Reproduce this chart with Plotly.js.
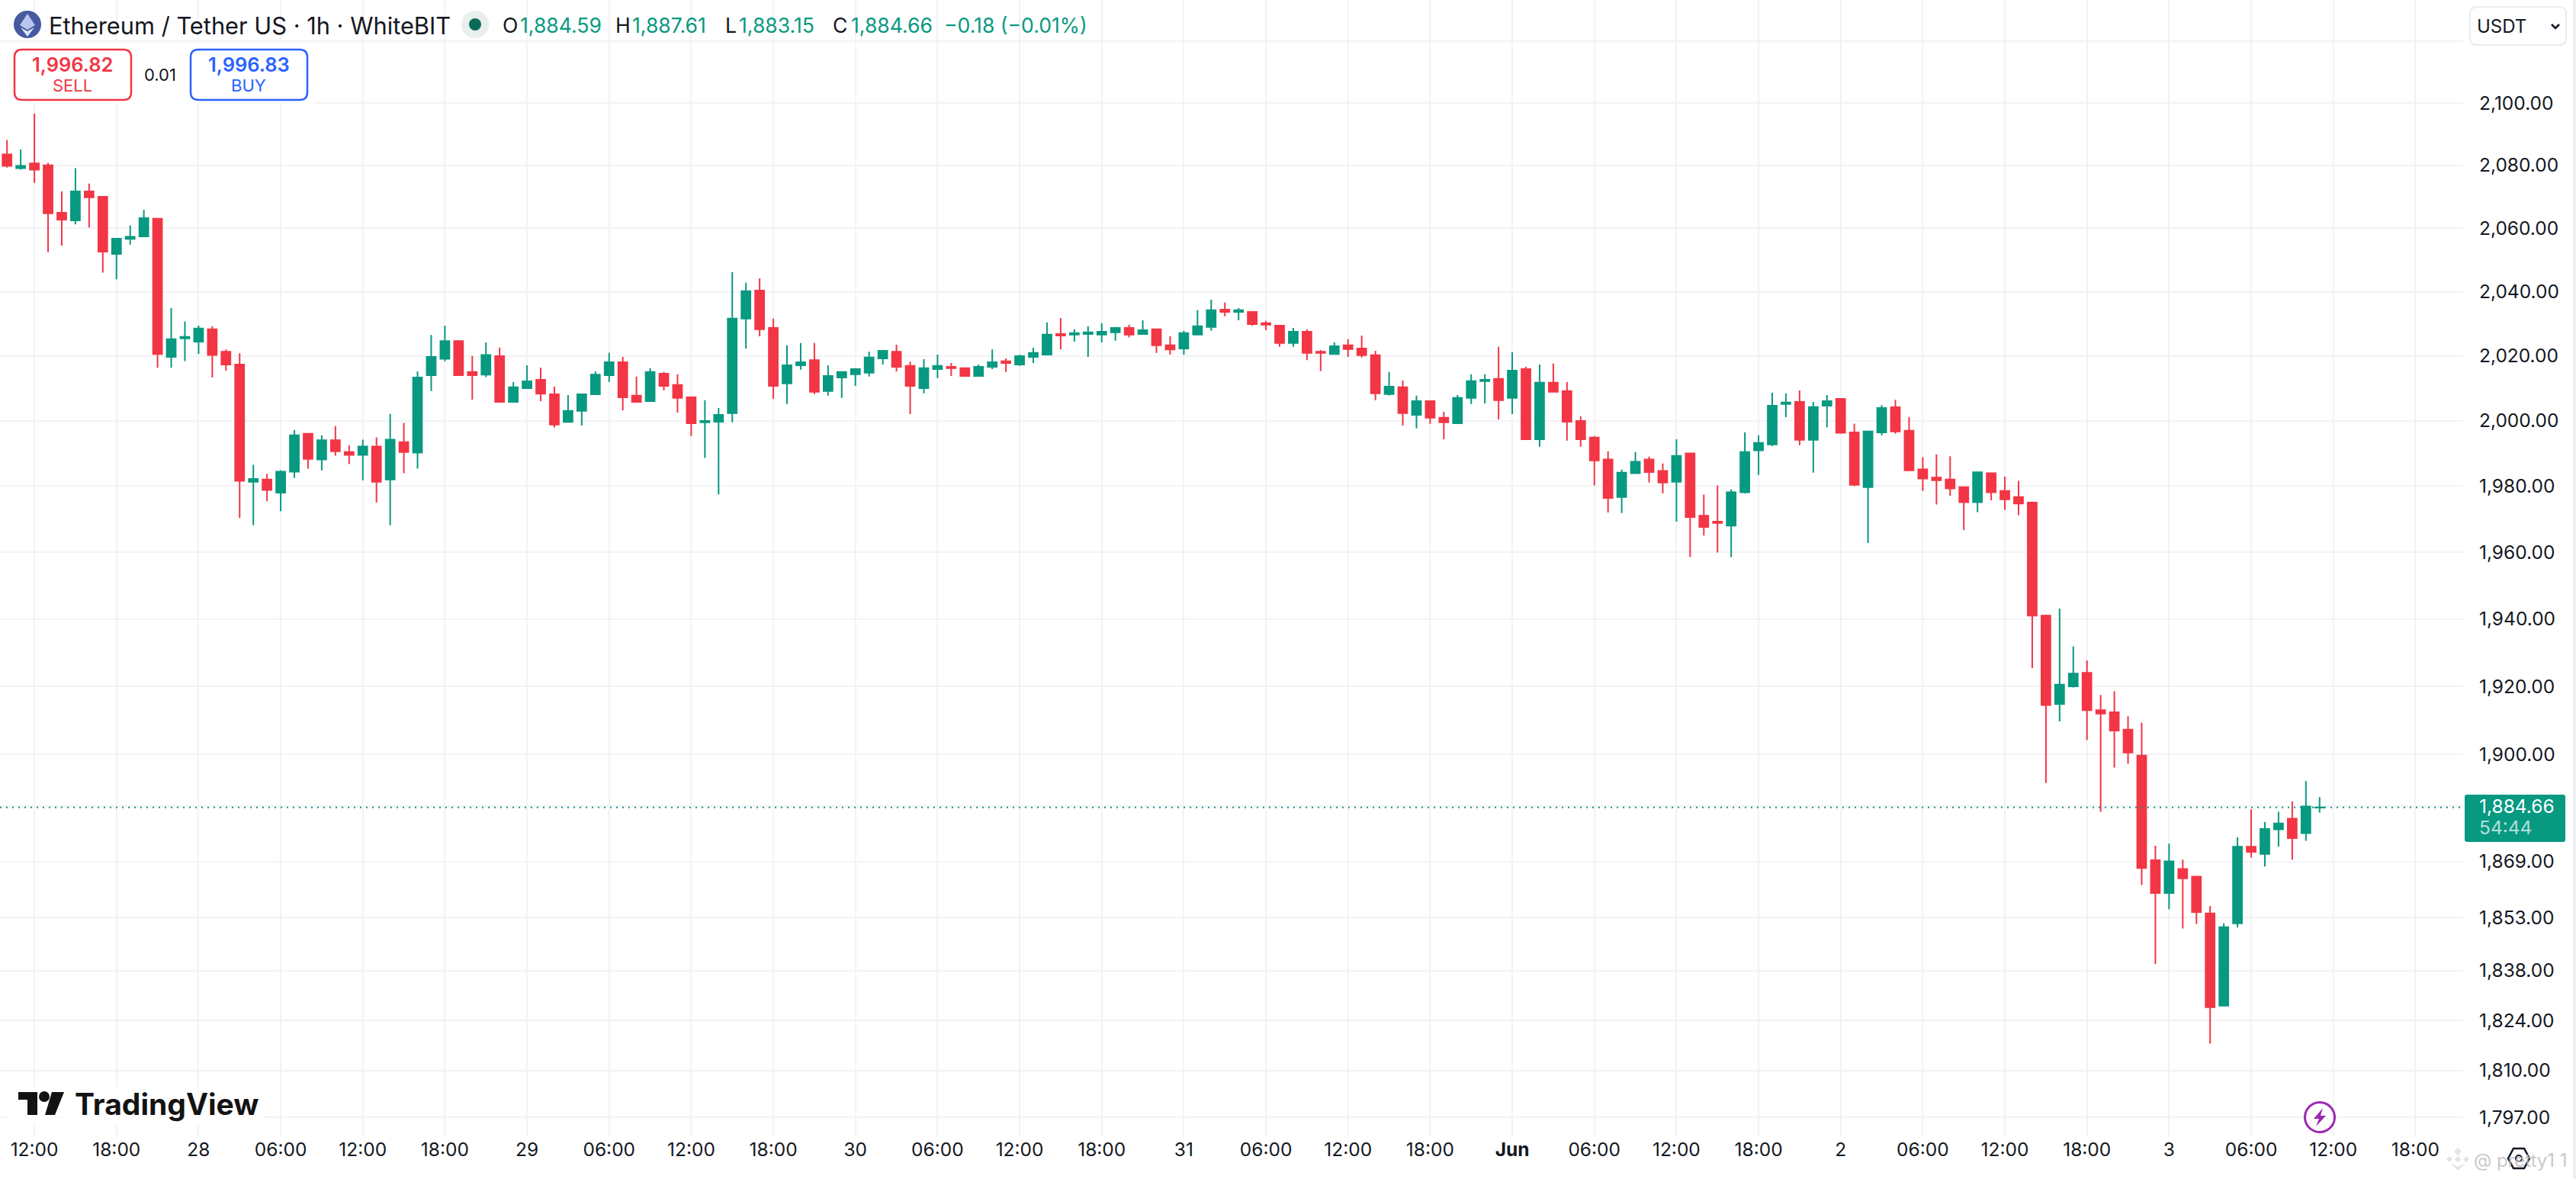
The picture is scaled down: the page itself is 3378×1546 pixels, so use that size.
<!DOCTYPE html>
<html>
<head>
<meta charset="utf-8">
<script src="https://cdn.plot.ly/plotly-3.0.1.min.js"></script>
<style>html,body{margin:0;padding:0;background:#fff}#chart{width:3378px;height:1546px}</style>
</head>
<body>
<div id="chart"></div>
<script>
var opens = [2083.5,2079.1,2080.6,2080,2064.9,2062.5,2071.7,2070,2051.9,2056.6,
2057.4,2063,2019.7,2025.4,2024.4,2028.3,2021.3,2017.3,1981.3,1982,
1978,1984.4,1996,1988.1,1994,1990.4,1989.5,1992.1,1982,1993.4,
1990.2,2014,2019.1,2024.6,2015,2014.2,2019.9,2005.8,2010,2012.6,
2008.1,1999.6,2003,2008.1,2014,2018,2007.7,2006,2014.5,2011,
2007.2,1999.5,1999.7,2002.3,2031.6,2040.4,2028.7,2011.5,2017.1,2018.7,
2009.1,2013.3,2014.3,2014.8,2019.2,2021.3,2016.9,2010,2015.9,2016.6,
2016.2,2013.8,2016.6,2018.3,2017.3,2019.7,2020.4,2026.8,2026.6,2026.8,
2026.6,2027.3,2028.7,2026.8,2028.3,2023.3,2022.3,2026.6,2029,2034.4,
2033.7,2033.7,2030.2,2029.4,2024,2027.5,2021.3,2020.6,2023.3,2022.3,
2020.2,2008.2,2010.3,2001.8,2006,2000.9,1999.2,2007,2012.2,2012.9,
2007,2015.9,1994.3,2011.7,2009.1,1999.9,1994.8,1988.1,1976.7,1983.9,
1988.1,1984.6,1981.3,1990,1971,1969.2,1968,1978.1,1990.9,1992.7,
2005.1,2005.8,1994.1,2004.6,2006.7,1996.4,1979.7,1996.4,2004.1,1996.9,
1985.1,1982.6,1982,1979.7,1975.1,1983.9,1978.5,1976.7,1975,1941,
1914.8,1920,1924,1913,1912.4,1907.3,1899.7,1869.4,1860,1866.9,
1864.7,1854.2,1828.1,1851.4,1873.3,1871.2,1878.3,1881.4,1877.2,1884.59];
var highs = [2088.1,2085.1,2096.6,2080.8,2071.7,2079.1,2074.2,2070,2056.7,2060.9,
2065.8,2063,2034.9,2030.7,2029.4,2029.2,2022,2020.8,1986.5,1983.7,
1984.8,1997.1,1996,1995.5,1998.3,1992.5,1994.2,1994.9,2002.1,1999.3,
2015.2,2026.5,2029.4,2024.9,2020,2024.2,2022.6,2011.9,2017.1,2016.3,
2010.5,2007.9,2008.1,2015.2,2021,2019.7,2013.6,2016.2,2015,2014.3,
2007.5,2006.3,2003.9,2046.2,2042.8,2044.2,2031.6,2023.3,2024,2024,
2017.1,2015,2016.2,2021.3,2021.6,2023.5,2018.2,2019,2020.4,2017.8,
2016.2,2017.3,2022,2019.2,2020.4,2022.5,2030.4,2031.8,2028.3,2029.2,
2030.2,2029,2029.7,2031.1,2028.3,2026.1,2027.8,2034.2,2037.5,2036.6,
2034.9,2033.7,2030.9,2029.4,2028.7,2028.3,2021.8,2024.2,2025.2,2026.3,
2021.6,2015,2012.4,2007.7,2006,2002.7,2007.9,2014.3,2014.3,2022.8,
2021.1,2016.6,2017.3,2017.6,2011.9,2001.3,1995.3,1990.6,1985,1990.4,
1989,1986.9,1994.3,1990.2,1977.4,1980.2,1979,1996.4,1995.5,2008.6,
2008.4,2009.3,2005.8,2007.9,2006.7,1999.1,1996.7,2004.8,2006.4,2001.1,
1988.8,1989.7,1989.1,1979.9,1984.2,1983.9,1982.9,1981.6,1975,1941.3,
1943.1,1931.8,1927.7,1917.5,1918.6,1911.2,1909.3,1873.6,1874.2,1869.6,
1864.7,1856.3,1851.4,1876,1884.1,1880.4,1883.4,1886.4,1892.3,1887.61];
var lows = [2079.3,2078.6,2074.4,2052.4,2054.5,2061.2,2060.2,2046,2043.9,2054.8,
2057.2,2016.3,2016.3,2018.4,2020.6,2013.3,2015.4,1970.3,1968.1,1975.4,
1972.4,1982.5,1985.3,1984.8,1989.3,1986.7,1981.8,1975,1968.1,1983.9,
1985.3,2009.1,2018.3,2014,2006.5,2013.4,2005.8,2005.8,2010,2006,
1997.9,1999.6,1998.5,2008.1,2011.9,2003.2,2005.6,2006,2009.3,2002.5,
1995.3,1988.6,1977.5,1999.5,2022.3,2026.1,2006.7,2005.1,2015.7,2008.2,
2007.7,2007,2010.7,2013.6,2017.3,2015.2,2002,2008.4,2013.1,2013.8,
2013.8,2013.8,2015.9,2015,2016.9,2017.8,2020.4,2022,2024.4,2019.7,
2024.2,2024.7,2025.7,2026.8,2020.9,2020.4,2020.4,2026.6,2027.8,2032.3,
2031.1,2029.4,2028,2022.8,2022.8,2018.7,2015.3,2020.6,2019.7,2019.5,
2006.3,2007.7,1998.5,1997.6,1999,1994.3,1999.2,2005.1,2005.3,2000.4,
2002,1994.3,1992,2008.9,1993.9,1992,1980.2,1972,1971.8,1983.9,
1981.1,1977.8,1969.2,1958.5,1965,1959.9,1958.5,1977.8,1983.4,1992.2,
2001.1,1992.5,1984.1,1998,1996,1980,1962.8,1995.5,1996,1984.8,
1978.5,1974.4,1977,1966.7,1972.1,1975.7,1972.8,1971.2,1925.4,1891.7,
1909.7,1919.7,1904.2,1883.4,1896.2,1897.3,1862.3,1839.8,1855.4,1849.9,
1851.2,1817.5,1828.1,1850.2,1870.2,1867.6,1873.3,1869.6,1875,1883.15];
var closes = [2079.8,2079.8,2078.6,2064.7,2062.7,2071.7,2069.8,2052.6,2056.7,2057.3,
2063.2,2020.6,2025.2,2025.9,2028.5,2020.3,2017.3,1981.6,1982.2,1978.8,
1984.4,1995.5,1988.3,1994,1990.6,1989.5,1992.1,1981.3,1994.2,1990.4,
2013.3,2019.7,2024.6,2014,2014,2020.3,2005.8,2010.3,2012.1,2008.3,
1998.8,2003,2008.1,2014.2,2018,2007.2,2005.8,2015,2010.7,2007,
1999.2,1999.9,2001.8,2031.6,2040.2,2028.3,2010.7,2017.1,2018,2008.9,
2013.8,2015,2015.9,2019.5,2021.6,2016.6,2010.7,2016.2,2016.9,2016.2,
2013.8,2016.6,2018,2017.8,2019.9,2020.9,2026.6,2026.3,2027.1,2027.3,
2027.5,2028.7,2026.6,2028,2023.3,2022,2027.1,2029.2,2034.2,2033.7,
2034.2,2029.9,2029.7,2024,2027.5,2020.9,2020.9,2023,2022.1,2020.2,
2008.4,2010.5,2002.3,2006,2000.9,1999.5,2007,2012.2,2012.6,2006.3,
2015.4,1994.3,2011.7,2008.9,1999.7,1994.3,1987.8,1976.4,1984.1,1987.4,
1984.3,1981.1,1989.2,1970.6,1967.6,1968.8,1978.1,1990.4,1993.2,2004.6,
2005.6,1994.1,2004.2,2006,1996.3,1980.4,1996.7,2003.9,1996.7,1984.8,
1982.3,1981.8,1979.3,1975.1,1984.2,1978.1,1976,1974.7,1941,1914.5,
1920.5,1923.8,1913,1912,1907,1900.6,1867.2,1860,1869.1,1864.2,
1854.6,1827.7,1850.3,1873.3,1871.8,1878.4,1880,1875.8,1884.9,1884.66];

var firstHour = Date.UTC(2023, 4, 27, 10);
var hourMs = 3600000;
var times = opens.map(function (_, i) { return new Date(firstHour + i * hourMs).toISOString(); });

var priceTicks = [2120,2100,2080,2060,2040,2020,2000,1980,1960,1940,1920,1900,1885,1869,1853,1838,1824,1810,1797];
var priceLabels = ['','2,100.00','2,080.00','2,060.00','2,040.00','2,020.00','2,000.00','1,980.00','1,960.00','1,940.00','1,920.00','1,900.00','','1,869.00','1,853.00','1,838.00','1,824.00','1,810.00','1,797.00'];
var timeLabels = ['12:00','18:00','28','06:00','12:00','18:00','29','06:00','12:00','18:00','30','06:00','12:00','18:00','31','06:00','12:00','18:00','<b>Jun</b>','06:00','12:00','18:00','2','06:00','12:00','18:00','3','06:00','12:00','18:00'];
var timeTicks = timeLabels.map(function (_, i) { return new Date(Date.UTC(2023, 4, 27, 12) + i * 6 * hourMs).toISOString(); });

var GREEN = '#089981', RED = '#F23645', BLUE = '#2962FF', INK = '#131722';
var W = 3230, H = 1490, FONT = 'Inter, "Noto Sans", sans-serif';
function px(x) { return x / W; }
function py(y) { return 1 - y / H; }
function pathOf(points) {
  return 'M' + points.map(function (p) { return px(p[0]) + ',' + py(p[1]); }).join('L') + 'Z';
}
function roundRect(x0, y0, x1, y1, r) {
  function P(x, y) { return px(x) + ',' + py(y); }
  return 'M' + P(x0 + r, y0) + 'L' + P(x1 - r, y0) + 'Q' + P(x1, y0) + ' ' + P(x1, y0 + r) +
    'L' + P(x1, y1 - r) + 'Q' + P(x1, y1) + ' ' + P(x1 - r, y1) +
    'L' + P(x0 + r, y1) + 'Q' + P(x0, y1) + ' ' + P(x0, y1 - r) +
    'L' + P(x0, y0 + r) + 'Q' + P(x0, y0) + ' ' + P(x0 + r, y0) + 'Z';
}
function box(path, fill, stroke, width) {
  return {type: 'path', xref: 'paper', yref: 'paper', layer: 'above', path: path,
    fillcolor: fill || 'rgba(0,0,0,0)', line: {color: stroke || 'rgba(0,0,0,0)', width: width || 0}};
}
function circle(cx, cy, r, fill, stroke, width) {
  return {type: 'circle', xref: 'paper', yref: 'paper', layer: 'above',
    x0: px(cx - r), x1: px(cx + r), y0: py(cy + r), y1: py(cy - r),
    fillcolor: fill || 'rgba(0,0,0,0)', line: {color: stroke || 'rgba(0,0,0,0)', width: width || 0}};
}
function diamond(cx, cy, r, fill) {
  return box(pathOf([[cx, cy - r], [cx + r, cy], [cx, cy + r], [cx - r, cy]]), fill);
}
function label(text, x, y, size, color, anchor, weight) {
  return {text: text, xref: 'paper', yref: 'paper', x: px(x), y: py(y), xanchor: anchor || 'left', yanchor: 'middle',
    showarrow: false, borderpad: 0, font: {family: FONT, size: size, color: color || INK, weight: weight || 400}};
}

var shapes = [
  {type: 'line', xref: 'paper', yref: 'y', layer: 'above', x0: 0, x1: 1, y0: 1884.66, y1: 1884.66,
    line: {color: GREEN, width: 2, dash: '2px,6px'}},
  box(pathOf([[0, 56], [412, 56], [412, 136], [0, 136]]), 'rgba(255,255,255,0.85)'),
  box(pathOf([[3374, 0], [3378, 0], [3378, 1546], [3374, 1546]]), '#EFF0F2'),
  circle(36, 32, 18, '#47599F'),
  box(pathOf([[36, 18], [46, 33], [36, 39], [26, 33]]), '#B9C6F0'),
  box(pathOf([[36, 41], [45, 36], [36, 48], [27, 36]]), '#DDE4FA'),
  circle(623, 32, 18, '#E8EFEC'),
  circle(623, 32, 8, '#0B6B58'),
  box(roundRect(19, 65, 172, 131, 10), '#FFFFFF', RED, 2.5),
  box(roundRect(250, 65, 403, 131, 10), '#FFFFFF', BLUE, 2.5),
  box(roundRect(3239, 9, 3365, 59, 9), '#FFFFFF', '#E9EBEE', 2),
  {type: 'path', xref: 'paper', yref: 'paper', layer: 'above',
    path: 'M' + px(3346) + ',' + py(32) + 'L' + px(3351) + ',' + py(37) + 'L' + px(3356) + ',' + py(32),
    line: {color: INK, width: 2.5}},
  box(roundRect(3232, 1042, 3364, 1104, 3), GREEN),
  box(pathOf([[10, 1426], [345, 1426], [345, 1476], [10, 1476]]), 'rgba(255,255,255,0.8)'),
  box(pathOf([[24, 1432], [49, 1432], [49, 1462], [36, 1462], [36, 1442], [24, 1442]]), '#131313'),
  circle(58, 1438, 7, '#131313'),
  box(pathOf([[68, 1432], [84, 1432], [72, 1462], [59, 1462]]), '#131313'),
  circle(3042, 1465, 19.5, '#FFFFFF', '#9C27B0', 3),
  box(pathOf([[3046, 1453], [3034, 1467], [3041, 1467], [3037, 1477], [3050, 1463], [3043, 1463]]), '#9C27B0'),
  diamond(3223, 1510, 5, '#E4E4E4'),
  diamond(3223, 1520, 4, '#E4E4E4'),
  diamond(3212, 1520, 4, '#E4E4E4'),
  diamond(3234, 1520, 4, '#E4E4E4'),
  box(pathOf([[3213, 1525], [3223, 1535], [3233, 1525], [3223, 1530]]), '#E4E4E4'),
  box(pathOf([[3289, 1519], [3296, 1506], [3310, 1506], [3317, 1519], [3310, 1532], [3296, 1532]]), 'rgba(0,0,0,0)', INK, 2.5),
  circle(3303, 1519, 4, 'rgba(0,0,0,0)', INK, 2)
];

var annotations = [
  label('Ethereum / Tether US · 1h · WhiteBIT', 63, 33, 30.8),
  label('O', 658, 33, 26.6),
  label('1,884.59', 681, 33, 26.6, GREEN),
  label('H', 806, 33, 26.6),
  label('1,887.61', 828, 33, 26.6, GREEN),
  label('L', 950, 33, 26.6),
  label('1,883.15', 968, 33, 26.6, GREEN),
  label('C', 1091, 33, 26.6),
  label('1,884.66', 1115, 33, 26.6, GREEN),
  label('−0.18 (−0.01%)', 1237, 33, 26.6, GREEN),
  label('1,996.82', 95, 85, 25.5, RED, 'center', 600),
  label('SELL', 95, 112, 22, RED, 'center'),
  label('0.01', 210, 98, 22, INK, 'center'),
  label('1,996.83', 326, 85, 25.5, BLUE, 'center', 600),
  label('BUY', 326, 112, 22, BLUE, 'center'),
  label('USDT', 3247, 34, 24),
  label('1,884.66', 3250, 1057, 24.5, '#FFFFFF'),
  label('54:44', 3250, 1085, 24.5, 'rgba(255,255,255,0.7)'),
  label('TradingView', 97, 1447, 39, '#131313', 'left', 700),
  label('@ pretty1 1', 3243, 1521, 24, 'rgba(190,190,190,0.85)')
];

var data = [{
  type: 'candlestick',
  x: times, open: opens, high: highs, low: lows, close: closes,
  increasing: {line: {color: GREEN, width: 2}, fillcolor: GREEN},
  decreasing: {line: {color: RED, width: 2}, fillcolor: RED},
  whiskerwidth: 0,
  hoverinfo: 'skip',
  showlegend: false
}];

var layout = {
  width: 3378, height: 1546,
  margin: {l: 0, r: 148, t: 0, b: 56, pad: 0},
  paper_bgcolor: '#FFFFFF', plot_bgcolor: '#FFFFFF',
  showlegend: false,
  boxgap: 0.345,
  boxgroupgap: 0,
  xaxis: {
    type: 'date',
    range: [new Date(firstHour - 0.5127 * hourMs).toISOString(), new Date(firstHour + 179.49 * hourMs).toISOString()],
    rangeslider: {visible: false},
    tickmode: 'array', tickvals: timeTicks, ticktext: timeLabels,
    showgrid: true, gridcolor: '#F2F3F5', gridwidth: 2,
    zeroline: false, showline: false, ticks: '',
    tickangle: 0, tickfont: {family: FONT, size: 24.5, color: INK}
  },
  yaxis: {
    type: 'log', side: 'right',
    range: [Math.log10(1791.8), Math.log10(2133.5)],
    tickmode: 'array', tickvals: priceTicks, ticktext: priceLabels,
    showgrid: true, gridcolor: '#F2F3F5', gridwidth: 2,
    zeroline: false, showline: false, ticks: '',
    ticklabelstandoff: 20,
    tickfont: {family: FONT, size: 24.5, color: INK}
  },
  shapes: shapes,
  annotations: annotations
};

Plotly.newPlot('chart', data, layout, {displayModeBar: false, staticPlot: true});
</script>
</body>
</html>
